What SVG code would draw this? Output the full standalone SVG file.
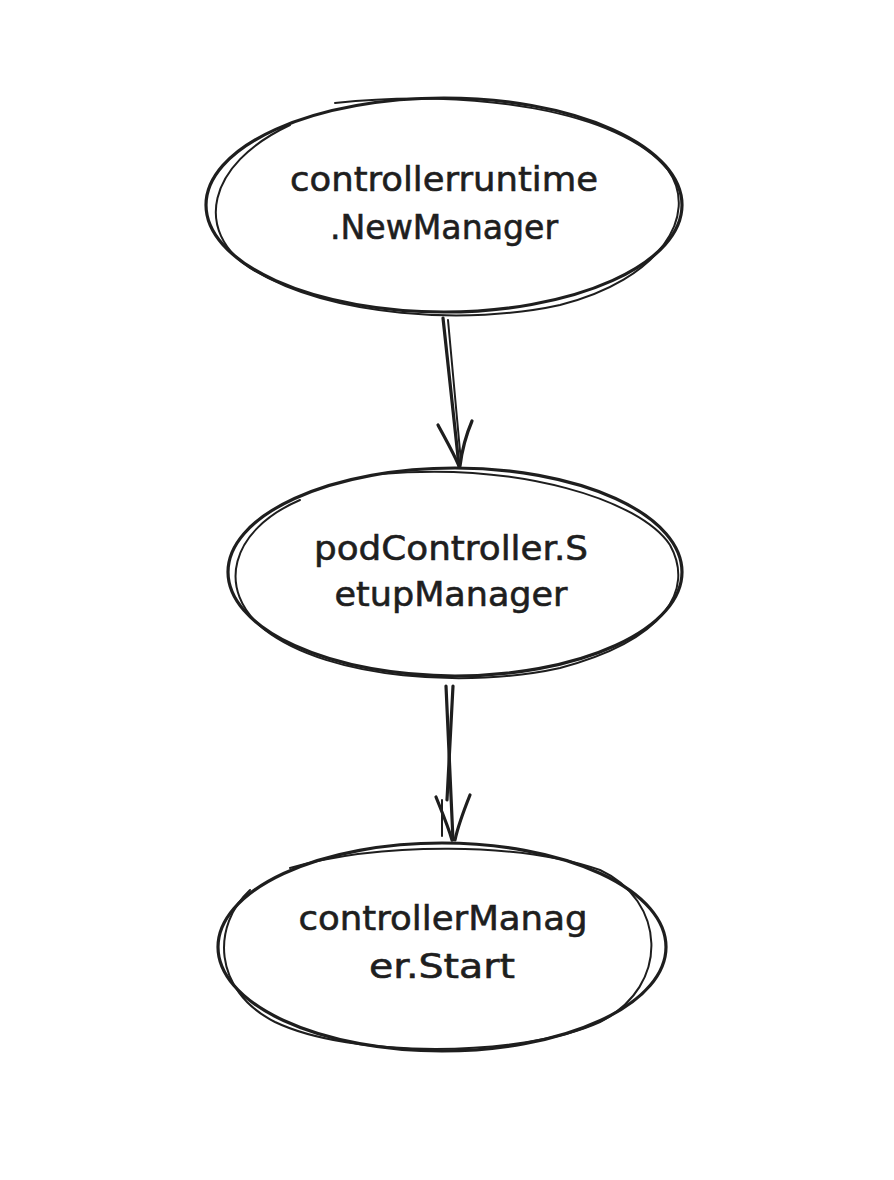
<svg xmlns="http://www.w3.org/2000/svg" width="894" height="1180" viewBox="0 0 894 1180">
  <style>
    .sk { fill: none; stroke: #1e1e1e; stroke-width: 3.2; stroke-linecap: round; stroke-linejoin: round; }
    .sk2 { fill: none; stroke: #1e1e1e; stroke-width: 2; stroke-linecap: round; }
    .lbl { font-family: "DejaVu Sans", "Liberation Sans", sans-serif; font-size: 34px; fill: #1e1e1e; stroke: #1e1e1e; stroke-width: 0.6; text-anchor: middle; }
  </style>
  <rect width="894" height="1180" fill="#ffffff"/>

  <g id="node-newmanager">
    <ellipse cx="444" cy="205" rx="238" ry="107" fill="#ffffff" class="sk"/>
    <path class="sk2" d="M335,103 C470,88 620,110 668,170 C700,215 660,280 560,305 C470,325 330,318 250,268 C195,232 205,165 290,125"/>
    <text class="lbl" x="444" y="191" textLength="308" lengthAdjust="spacingAndGlyphs">controllerruntime</text>
    <text class="lbl" x="444" y="239" textLength="228" lengthAdjust="spacingAndGlyphs">.NewManager</text>
  </g>

  <g id="node-setupmanager">
    <ellipse cx="455" cy="572" rx="227" ry="104" fill="#ffffff" class="sk"/>
    <path class="sk2" d="M380,474 C520,462 640,500 670,545 C695,590 665,640 560,668 C470,688 330,680 265,630 C215,590 230,530 300,500"/>
    <text class="lbl" x="451" y="560" textLength="274" lengthAdjust="spacingAndGlyphs">podController.S</text>
    <text class="lbl" x="451" y="606" textLength="233" lengthAdjust="spacingAndGlyphs">etupManager</text>
  </g>

  <g id="node-start">
    <ellipse cx="442" cy="947" rx="224" ry="104" fill="#ffffff" class="sk"/>
    <path class="sk2" d="M290,868 C380,842 520,842 600,870 C665,900 672,985 600,1022 C520,1058 350,1058 275,1022 C212,990 212,925 250,890"/>
    <text class="lbl" x="443" y="930" textLength="289" lengthAdjust="spacingAndGlyphs">controllerManag</text>
    <text class="lbl" x="442" y="978" textLength="146" lengthAdjust="spacingAndGlyphs">er.Start</text>
  </g>

  <g id="connectors">
    <path class="sk" d="M443,318 L459,466"/>
    <path class="sk2" d="M448,320 L461,462"/>
    <path class="sk" d="M438,425 C446,440 453,452 459,466"/>
    <path class="sk" d="M472,421 C466,435 462,450 460,466"/>

    <path class="sk" d="M446,686 L453,840"/>
    <path class="sk" d="M453,686 L447,800"/>
    <path class="sk" d="M436,797 C442,812 448,826 452,840"/>
    <path class="sk" d="M470,795 C464,810 458,826 455,840"/>
    <path class="sk2" d="M442,800 L442,836"/>
  </g>
</svg>
